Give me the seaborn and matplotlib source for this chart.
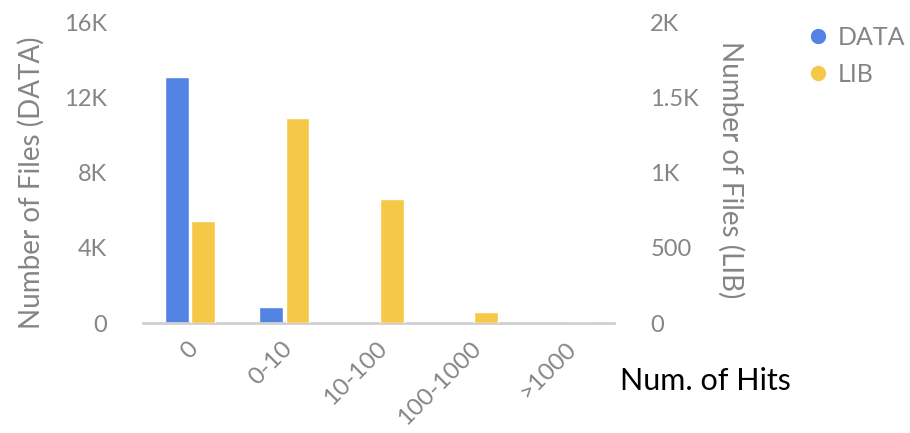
import pandas as pd
import seaborn as sns
import matplotlib.pyplot as plt
from matplotlib.lines import Line2D
from matplotlib.ticker import FixedLocator
from matplotlib.transforms import ScaledTranslation

hits = ["0", "0-10", "10-100", "100-1000", ">1000"]
data_files = [13100, 870, 0, 0, 0]
lib_files = [681, 1365, 825, 75, 0]

blue = "#5383e3"
yellow = "#f5c947"
grey = "#858585"

sns.set_style("white")
plt.rcParams["font.family"] = ["Lato", "DejaVu Sans"]

df_data = pd.DataFrame({"hits": hits, "files": data_files, "kind": "DATA"})
df_lib = pd.DataFrame({"hits": hits, "files": lib_files, "kind": "LIB"})

fig = plt.figure(figsize=(9.1, 4.33), dpi=100)
ax = fig.add_axes([0.157, 0.254, 0.518, 0.695])
ax2 = ax.twinx()

pal = {"DATA": blue, "LIB": yellow}
order = ["DATA", "LIB"]
sns.barplot(data=df_data, x="hits", y="files", hue="kind", hue_order=order,
            palette=pal, width=0.56, gap=0.1, order=hits, dodge=True,
            saturation=1, ax=ax, legend=False)
sns.barplot(data=df_lib, x="hits", y="files", hue="kind", hue_order=order,
            palette=pal, width=0.56, gap=0.1, order=hits, dodge=True,
            saturation=1, ax=ax2, legend=False)

ax.set_xlim(-0.5, 4.5)
ax.set_ylim(0, 16000)
ax2.set_ylim(0, 2000)
ax.yaxis.set_major_locator(FixedLocator([0, 4000, 8000, 12000, 16000]))
ax.set_yticklabels(["0", "4K", "8K", "12K", "16K"])
ax2.yaxis.set_major_locator(FixedLocator([0, 500, 1000, 1500, 2000]))
ax2.set_yticklabels(["0", "500", "1K", "1.5K", "2K"])

for a in (ax, ax2):
    for s in a.spines.values():
        s.set_visible(False)
    a.tick_params(length=0, colors=grey, labelsize=17)
ax.spines["bottom"].set_visible(True)
ax.spines["bottom"].set_color("#cfcfcf")
ax.spines["bottom"].set_linewidth(2)
ax.tick_params(axis="y", pad=26)
ax2.tick_params(axis="y", pad=26)
ax.tick_params(axis="x", pad=16, labelsize=17.5)

ax.set_xticks(range(len(hits)))
ax.set_xticklabels(hits, rotation=45, ha="right", va="center",
                   rotation_mode="anchor")
shift = ScaledTranslation(5 / 100, 0, fig.dpi_scale_trans)
for lab in ax.get_xticklabels():
    lab.set_transform(lab.get_transform() + shift)

ax.set_xlabel("")
ax.set_ylabel("")
ax2.set_ylabel("")
fig.text(0.034, 0.577, "Number of Files (DATA)", rotation=90, color=grey,
         fontsize=20, ha="center", va="center")
fig.text(0.803, 0.607, "Number of Files (LIB)", rotation=270, color=grey,
         fontsize=20, ha="center", va="center")
fig.text(0.681, 0.12, "Num. of Hits", color="black", fontsize=22,
         ha="left", va="center")

handles = [Line2D([], [], marker="o", ls="", color=blue, markersize=10),
           Line2D([], [], marker="o", ls="", color=yellow, markersize=10)]
leg = fig.legend(handles, order, loc="upper left", bbox_to_anchor=(0.885, 0.94),
                 frameon=False, fontsize=18, handletextpad=0.3, labelspacing=0.55,
                 handlelength=1.0, borderpad=0, borderaxespad=0)
for t in leg.get_texts():
    t.set_color(grey)

plt.savefig("out.png", dpi=100)
